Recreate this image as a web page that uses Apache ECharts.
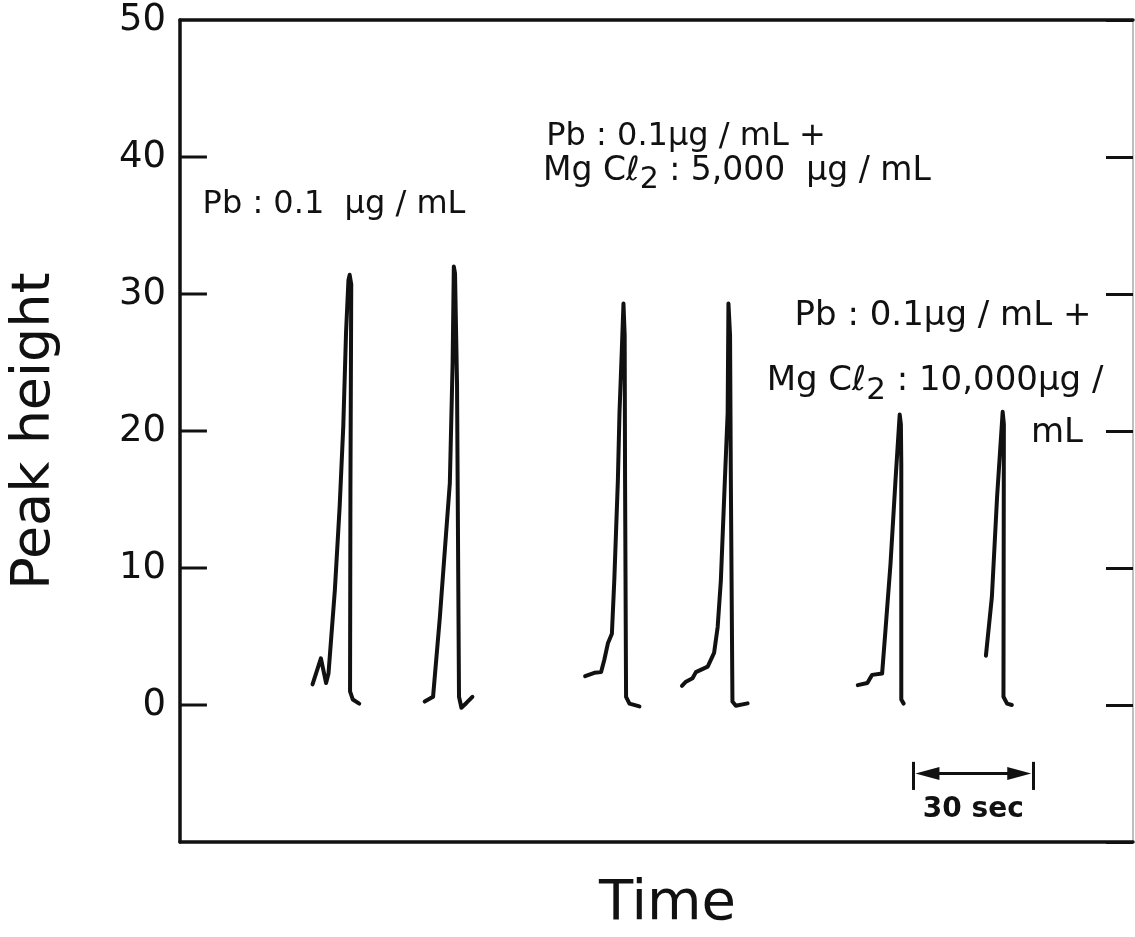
<!DOCTYPE html>
<html>
<head>
<meta charset="utf-8">
<title>Peak height vs time</title>
<script src="https://cdn.jsdelivr.net/npm/echarts@6/dist/echarts.min.js"></script>
<style>
  html, body { margin: 0; padding: 0; background: #fff; }
  #main { width: 1135px; height: 937px; }
</style>
</head>
<body>
<div id="main"></div>
<script>
// recorder traces, [time (sec), peak height]
const peak1 = [[33.2, 1.5], [35.3, 3.4], [36.6, 1.6], [37.2, 2.3], [38.8, 8.4], [40.0, 14.5], [40.9, 20.3],
  [41.6, 27.2], [42.2, 31.0], [42.5, 31.4], [42.9, 30.7], [42.7, 16.0], [42.6, 1.0], [43.3, 0.4], [44.9, 0.1]]
const peak2 = [[61.3, 0.25], [63.4, 0.6], [65.1, 6.4], [66.4, 11.5], [67.6, 16.2], [68.3, 25.0], [68.6, 32.0],
  [68.9, 31.5], [69.4, 23.5], [69.9, 0.6], [70.5, -0.2], [71.75, 0.15], [73.25, 0.6]]
const peak3 = [[101.5, 2.1], [103.8, 2.35], [105.5, 2.4], [106.3, 3.3], [107.2, 4.5], [108.2, 5.2], [108.8, 9.1],
  [109.7, 16.4], [110.1, 21.3], [110.7, 26.0], [111.1, 29.3], [111.4, 27.0], [111.5, 16.4], [111.75, 0.6],
  [112.6, 0.1], [115.1, -0.1]]
const peak4 = [[125.75, 1.4], [126.75, 1.7], [128.4, 1.95], [129.25, 2.4], [132.2, 2.8], [133.8, 3.8], [134.7, 5.7],
  [135.5, 9.1], [136.5, 16.4], [137.2, 21.3], [137.4, 29.3], [137.8, 27.0], [138.0, 16.4], [138.4, 0.25],
  [139.25, -0.05], [142.2, 0.12]]
const peak5 = [[169.8, 1.45], [172.2, 1.6], [173.4, 2.2], [175.9, 2.3], [176.75, 5.5], [178.0, 10.3], [179.25, 16.4],
  [180.3, 21.2], [180.6, 20.5], [180.7, 17.6], [180.7, 0.4], [181.3, 0.1]]
const peak6 = [[201.9, 3.6], [203.4, 7.9], [204.7, 15.2], [206.1, 21.4], [206.4, 20.5], [206.3, 0.6], [207.2, 0.1],
  [208.4, 0.0]]

const yTickLabels = [50, 40, 30, 20, 10, 0]
const innerTicks = [40, 30, 20, 10, 0]
const tickFrom = 0.2
const tickTo = 6.75

// 30 sec scale bar
const scaleStart = 183.75
const scaleSec = 30
const scaleY = -5

const FONT = '"DejaVu Sans", "Liberation Sans", sans-serif'
const INK = '#111'

const chart = echarts.init(document.getElementById('main'), null, { renderer: 'canvas' })

const peakSeries = [peak1, peak2, peak3, peak4, peak5, peak6].map((d, i) => ({
  type: 'line',
  name: 'peak' + (i + 1),
  data: d,
  symbol: 'none',
  silent: true,
  lineStyle: { color: INK, width: 4, join: 'round', cap: 'round' }
}))

// inward ticks on the left frame edge, one short segment each
const tickSeries = innerTicks.map(v => ({
  type: 'line',
  name: 'tick' + v,
  data: [[tickFrom, v], [tickTo, v]],
  symbol: 'none',
  silent: true,
  clip: false,
  z: 5,
  lineStyle: { color: INK, width: 3 }
}))

// scale bar hangs off the last trace
peakSeries[5].markLine = {
  silent: true,
  animation: false,
  symbol: 'none',
  lineStyle: { color: INK, width: 3, type: 'solid' },
  label: { show: false },
  data: [
    [{ coord: [scaleStart, -4.15] }, { coord: [scaleStart, -6.2] }],
    [{ coord: [scaleStart + scaleSec, -4.15] }, { coord: [scaleStart + scaleSec, -6.2] }],
    [
      { coord: [scaleStart + 3.5, scaleY], symbol: 'triangle', symbolSize: [13, 24] },
      {
        coord: [scaleStart + scaleSec - 3.5, scaleY], symbol: 'triangle', symbolSize: [13, 24],
        label: {
          show: true,
          position: 'insideMiddleBottom',
          distance: 22,
          formatter: scaleSec + ' sec',
          color: INK,
          fontFamily: FONT,
          fontWeight: 'bold',
          fontSize: 28
        }
      }
    ]
  ]
}

const subRich = (size) => ({
  a: { fontFamily: FONT, fontSize: size, color: INK, lineHeight: size + 16 },
  s: { fontFamily: FONT, fontSize: size - 3, color: INK, lineHeight: size, verticalAlign: 'bottom' }
})

const note = (x, y, text, size, align, rich) => ({
  type: 'text',
  x: x,
  y: y,
  silent: true,
  style: {
    text: text,
    fill: INK,
    font: size + 'px ' + FONT,
    align: align || 'center',
    verticalAlign: 'middle',
    rich: rich
  }
})

const flatAxis = (extra) => Object.assign({
  axisLine: { show: true, onZero: false, lineStyle: { color: INK, width: 3.5 } },
  axisTick: { show: false },
  axisLabel: { show: false },
  splitLine: { show: false }
}, extra)

chart.setOption({
  animation: false,
  backgroundColor: '#fff',
  grid: { left: 178, right: 2, top: 20, bottom: 94 },
  xAxis: [
    flatAxis({
      type: 'value',
      min: 0,
      max: 238.75,
      name: 'Time',
      nameLocation: 'middle',
      nameGap: 34,
      nameTextStyle: { fontFamily: FONT, fontSize: 56, color: INK, padding: [0, 0, 0, 22] }
    }),
    flatAxis({ type: 'value', position: 'top', min: 0, max: 238.75 })
  ],
  yAxis: [
    {
      type: 'value',
      position: 'left',
      min: -10,
      max: 50,
      interval: 10,
      name: 'Peak height',
      nameLocation: 'middle',
      nameRotate: 90,
      nameGap: 118,
      nameTextStyle: { fontFamily: FONT, fontSize: 54, color: INK },
      axisLine: { show: true, onZero: false, lineStyle: { color: INK, width: 3.5 } },
      axisTick: { show: false },
      axisLabel: {
        margin: 14,
        fontFamily: FONT,
        fontSize: 37,
        color: INK,
        formatter: v => (yTickLabels.includes(v) ? String(v) : '')
      },
      splitLine: { show: false }
    },
    {
      type: 'value',
      position: 'right',
      min: -10,
      max: 50,
      interval: 10,
      axisLine: { show: true, onZero: false, lineStyle: { color: '#aaa', width: 1.5 } },
      axisTick: { show: true, inside: true, length: 27, lineStyle: { color: INK, width: 3 } },
      axisLabel: { show: false },
      splitLine: { show: false }
    }
  ],
  series: peakSeries.concat(tickSeries),
  graphic: [
    note(334, 205, 'Pb : 0.1  μg / mL', 32),
    note(686, 137, 'Pb : 0.1μg / mL +', 32),
    note(737, 171, '{a|Mg Cℓ}{s|2}{a| : 5,000  μg / mL}', 33, 'center', subRich(33)),
    note(943, 316, 'Pb : 0.1μg / mL +', 34),
    note(935, 381, '{a|Mg Cℓ}{s|2}{a| : 10,000μg /}', 34, 'center', subRich(34)),
    note(1057, 433, 'mL', 34)
  ]
})
</script>
</body>
</html>
